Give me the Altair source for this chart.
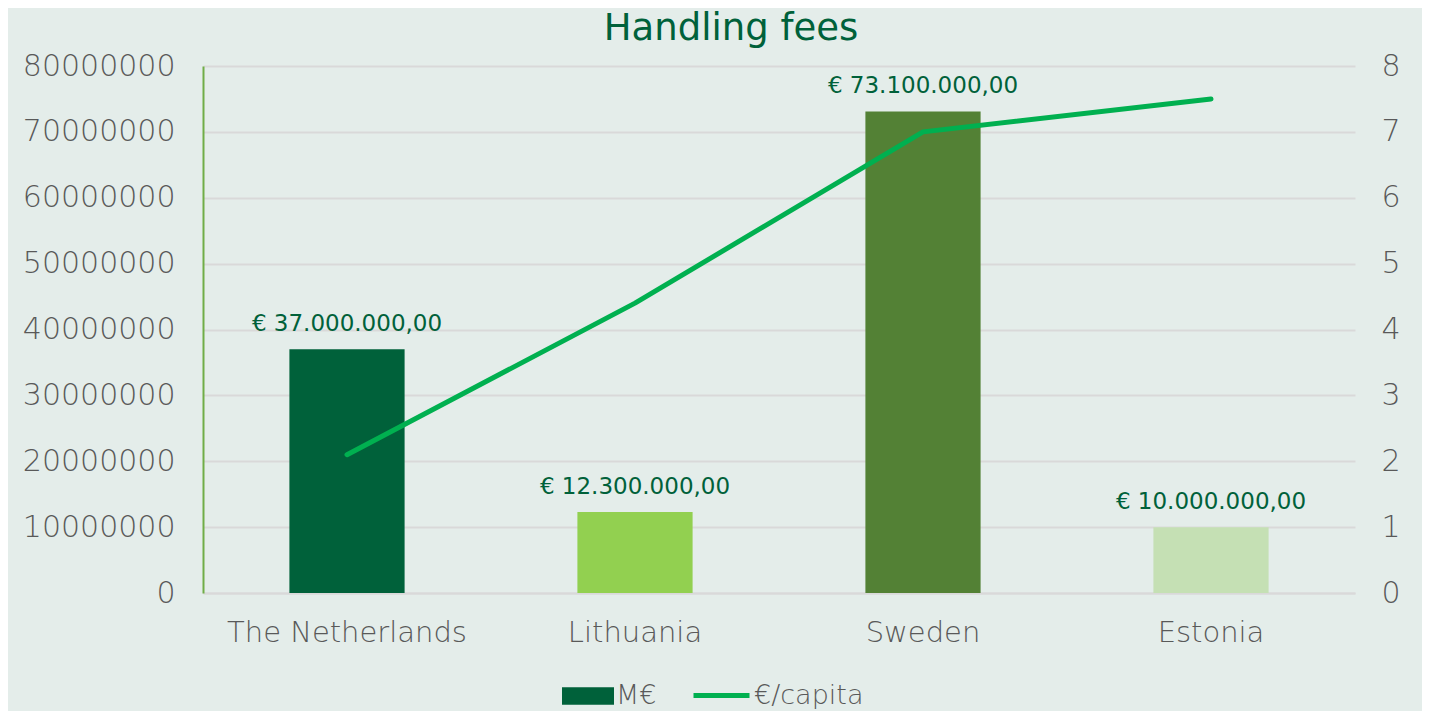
import altair as alt
import pandas as pd

countries = ["The Netherlands", "Lithuania", "Sweden", "Estonia"]
fees_eur = [37000000, 12300000, 73100000, 10000000]
per_capita = [2.1, 4.4, 7.0, 7.5]
bar_colors = ["#00613A", "#92D050", "#538135", "#C5E0B4"]
series_names = ["M€", "€/capita"]
series_colors = ["#00613A", "#00B050"]


def eur(v):
    s = f"{v:,.2f}".replace(",", "X").replace(".", ",").replace("X", ".")
    return "€ " + s


df = pd.DataFrame({
    "country": countries,
    "fees": fees_eur,
    "capita": per_capita,
    "label": [eur(v) for v in fees_eur],
    "series_bar": [series_names[0]] * 4,
    "series_line": [series_names[1]] * 4,
})

FONT = "DejaVu Sans"
GRAY = "#595959"
DARK = "#00613A"

x_enc = alt.X(
    "country:N",
    sort=countries,
    title=None,
    scale=alt.Scale(paddingInner=0.6, paddingOuter=0.3),
    axis=alt.Axis(labelAngle=0, labelFontSize=29, labelColor=GRAY, labelFont=FONT,
                  labelFontWeight=300, labelLimit=0,
                  labelPadding=25, ticks=False, domainColor="#D9D9D9", domainWidth=2),
)

y_left = alt.Y(
    "fees:Q",
    title=None,
    scale=alt.Scale(domain=[0, 80000000]),
    axis=alt.Axis(values=list(range(0, 80000001, 10000000)), format="d",
                  labelFontSize=30, labelColor=GRAY, labelFont=FONT, labelFontWeight=300,
                  labelPadding=28, ticks=False, domainColor="#70AD47", domainWidth=2,
                  grid=True, gridColor="#D9D9D9", gridWidth=2),
)

leg_common = dict(orient="none", title=None, direction="horizontal",
                  labelFontSize=27, labelColor=GRAY, labelFont=FONT, labelFontWeight=300,
                  labelOffset=2)

bars = alt.Chart(df).mark_bar().encode(
    x=x_enc,
    y=y_left,
    color=alt.Color("country:N", scale=alt.Scale(domain=countries, range=bar_colors), legend=None),
)

legend_bar = alt.Chart(df).mark_bar().encode(
    x=alt.X("country:N", sort=countries),
    y=alt.datum(0),
    fill=alt.Fill("series_bar:N",
                  scale=alt.Scale(domain=[series_names[0]], range=[series_colors[0]]),
                  legend=alt.Legend(symbolType="M-1,-0.34H1V0.34H-1Z", symbolSize=2704,
                                    symbolStrokeWidth=0, legendX=359, legendY=604,
                                    **leg_common)),
)

labels = alt.Chart(df).mark_text(
    dy=-13, fontSize=23, color=DARK, font=FONT, baseline="bottom"
).encode(
    x=alt.X("country:N", sort=countries),
    y=alt.Y("fees:Q"),
    text="label:N",
)

left = alt.layer(bars, legend_bar, labels)

line = alt.Chart(df).mark_line(strokeWidth=5, strokeCap="round", strokeJoin="round").encode(
    x=alt.X("country:N", sort=countries),
    y=alt.Y("capita:Q", title=None,
            scale=alt.Scale(domain=[0, 8]),
            axis=alt.Axis(orient="right", values=list(range(0, 9)), labelFontSize=30,
                          labelColor=GRAY, labelFont=FONT, labelFontWeight=300,
                          labelPadding=26, ticks=False,
                          domain=False, grid=False)),
    stroke=alt.Stroke("series_line:N",
                      scale=alt.Scale(domain=[series_names[1]], range=[series_colors[1]]),
                      legend=alt.Legend(symbolType="stroke", symbolSize=3136,
                                        symbolStrokeWidth=5, legendX=488, legendY=599,
                                        **leg_common)),
)

chart = alt.layer(left, line).resolve_scale(y="independent").properties(
    width=1152,
    height=527,
    background="#E4EDEA",
    autosize=alt.AutoSizeParams(type="none"),
    padding={"left": 195, "top": 58, "right": 67, "bottom": 118},
    title=alt.TitleParams("Handling fees", fontSize=37, color=DARK, font=FONT,
                          fontWeight="normal", anchor="middle", offset=3, dx=-48),
).configure_view(stroke=None)

chart.save("out.html", embed_options={"renderer": "svg", "actions": False})
